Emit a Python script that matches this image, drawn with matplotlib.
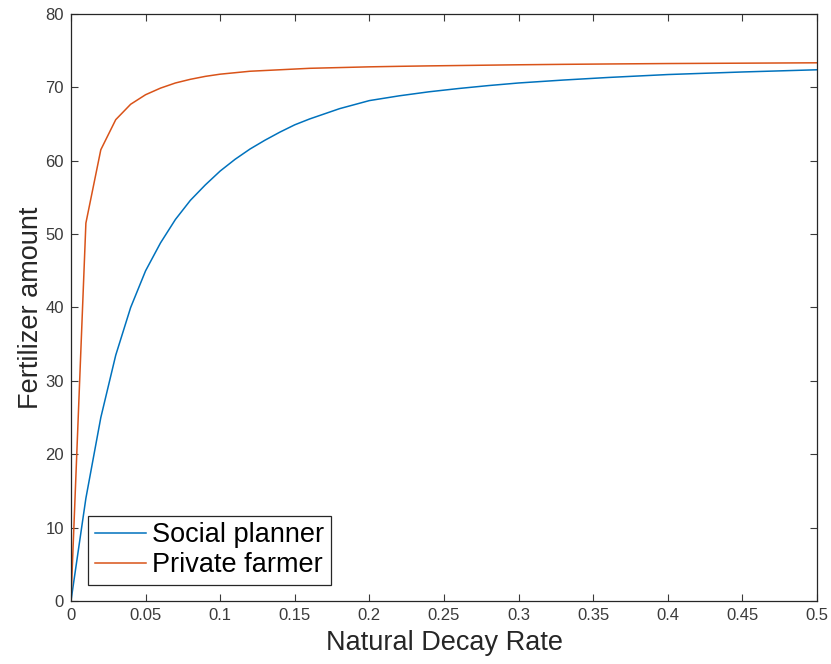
import matplotlib
matplotlib.use('Agg')
import matplotlib.pyplot as plt

plt.rcParams['font.family'] = ['Liberation Sans', 'DejaVu Sans']

# decay rate grid and fertilizer amounts
rate = [0, 0.01, 0.02, 0.03, 0.04, 0.05, 0.06, 0.07, 0.08, 0.09, 0.10,
        0.11, 0.12, 0.13, 0.14, 0.15, 0.16, 0.18, 0.20, 0.22, 0.24,
        0.26, 0.28, 0.30, 0.33, 0.36, 0.40, 0.45, 0.50]
social = [0, 14.0, 25.0, 33.5, 40.0, 45.0, 48.8, 52.0, 54.6, 56.7, 58.6,
          60.2, 61.6, 62.8, 63.9, 64.9, 65.7, 67.1, 68.2, 68.85, 69.4,
          69.85, 70.25, 70.6, 71.0, 71.35, 71.75, 72.1, 72.4]
private = [0, 51.5, 61.5, 65.6, 67.7, 69.0, 69.9, 70.6, 71.1, 71.5, 71.8,
           72.0, 72.2, 72.3, 72.4, 72.5, 72.6, 72.7, 72.8, 72.87, 72.93,
           72.98, 73.03, 73.08, 73.14, 73.19, 73.25, 73.3, 73.35]

xticks = [0, 0.05, 0.1, 0.15, 0.2, 0.25, 0.3, 0.35, 0.4, 0.45, 0.5]
xticklabels = ['0', '0.05', '0.1', '0.15', '0.2', '0.25', '0.3', '0.35', '0.4', '0.45', '0.5']
yticks = [0, 10, 20, 30, 40, 50, 60, 70, 80]

fig = plt.figure(figsize=(8.31, 6.64), dpi=100)
ax = fig.add_axes([0.0854, 0.0949, 0.8978, 0.884])
ax.plot(rate, social, color='#0072BD', lw=1.1, label='Social planner')
ax.plot(rate, private, color='#D95319', lw=1.1, label='Private farmer')

ax.set_xlim(0, 0.5)
ax.set_ylim(0, 80)
ax.set_xticks(xticks)
ax.set_xticklabels(xticklabels)
ax.set_yticks(yticks)
ax.tick_params(direction='in', top=True, right=True, length=5, width=0.8,
               labelsize=12, colors='#3a3a3a', pad=5)
for s in ax.spines.values():
    s.set_color('#262626')
    s.set_linewidth(0.9)

ax.set_xlabel('Natural Decay Rate', fontsize=19.5, color='#262626', labelpad=5)
ax.set_ylabel('Fertilizer amount', fontsize=19.5, color='#262626', labelpad=1)

leg = ax.legend(loc='lower left', bbox_to_anchor=(0.0228, 0.027), fontsize=19.5,
                fancybox=False, framealpha=1, edgecolor='#262626',
                handlelength=1.9, handletextpad=0.2, borderpad=0.25,
                labelspacing=0.15, borderaxespad=0)
leg.get_frame().set_linewidth(0.9)

fig.savefig('out.png', dpi=100)
